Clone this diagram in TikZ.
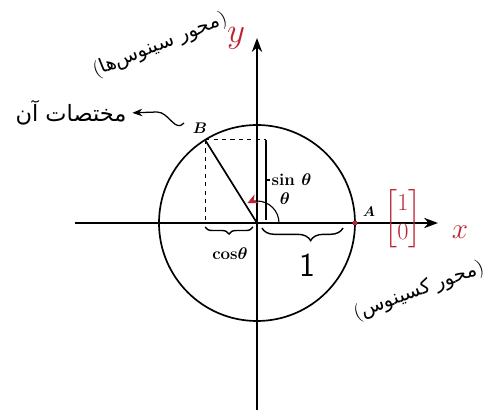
\documentclass[tikz,border=0pt]{standalone}
\usepackage{amsmath}
\usepackage{fontspec}
\usepackage{tikz}
\usetikzlibrary{positioning, arrows.meta, calc, decorations.pathreplacing}
\newfontfamily\farsifont[Script=Arabic]{DejaVu Sans}
\TeXXeTstate=1
\definecolor{penred}{RGB}{190,35,50}

\begin{document}
\begin{tikzpicture}[
    x=0.025cm, y=0.025cm,
    axis/.style={
      line width=1.3pt,
      -{Stealth[length=3.5mm, width=2.6mm]}
    },
    ring/.style={line width=1.2pt},
    guide/.style={dashed, line width=0.7pt},
    note/.style={
      font=\farsifont\fontsize{14}{16}\selectfont,
      inner sep=1pt
    },
    lbl/.style={
      font=\bfseries\fontsize{12}{13}\selectfont,
      inner sep=1pt
    },
    bracket/.style={
      decorate,
      line width=1pt,
      decoration={brace, amplitude=#1}
    }
  ]

    \useasboundingbox (-257,-191) rectangle (231,223);

    % axes
    \coordinate (O) at (0,0);
    \coordinate (xs) at (-182,0);
    \coordinate (xe) at (181,0);
    \coordinate (ys) at (0,-187);
    \coordinate (ye) at (0,185);
    \draw[axis] (xs) -- (xe);
    \draw[axis] (ys) -- (ye);

    % circle and the point B
    \draw[ring] (O) circle[radius=98];
    \coordinate (A) at (0:98);
    \coordinate (B) at (122:98);
    \coordinate (Bx) at (B |- O);
    \coordinate (Bs) at ($(B -| O)+(9,0)$);
    \coordinate (Bs0) at (9,3);
    \coordinate (Bsm) at ($(Bs)!0.5!(Bs0)$);

    \draw[ring] (O) -- (B);
    \draw[guide] (B) -- (Bx);
    \draw[guide] (B) -- (Bs);
    \draw[line width=0.9pt] (Bs) -- (Bs0);

    \node[lbl, anchor=west] (sinlbl) at ($(Bsm)+(4,0)$) {sin $\boldsymbol{\theta}$};
    \draw[line width=0.9pt] (Bsm) -- (sinlbl.west);

    % cos and 1
    \draw[bracket=5pt] ($(O)+(-4,-4)$) -- ($(Bx)+(0,-4)$);
    \node[lbl] (coslbl) at (-27,-31) {cos$\boldsymbol{\theta}$};

    \draw[bracket=9pt, decoration={aspect=0.4}] (86,-5) -- (5,-5);
    \node[font=\sffamily\fontsize{24}{26}\selectfont] (one) at (50,-42) {1};

    % angle
    \coordinate (arc0) at (22,0);
    \draw[line width=0.8pt, -{Stealth[color=penred, length=2.6mm, width=2.4mm]}]
      (arc0) arc[start angle=0, end angle=116, radius=22];
    \node[lbl] (th) at (28,24) {$\boldsymbol{\theta}$};

    % points
    \fill[penred] (A) circle[radius=2.5];
    \node[lbl, font=\fontsize{10}{11}\selectfont] (Alab) at (112,11) {$\boldsymbol{A}$};
    \node[lbl, font=\fontsize{11}{12}\selectfont] (Blab) at (-57,95) {$\boldsymbol{B}$};

    \node[text=penred, font=\fontsize{18}{21}\selectfont] (vec) at (146,4)
      {$\begin{bmatrix}1\\0\end{bmatrix}$};

    % axis names
    \node[text=penred, font=\fontsize{20}{22}\selectfont] (xlab) at (203,-9) {$x$};
    \node[text=penred, font=\fontsize{24}{26}\selectfont] (ylab) at (-21,185) {$y$};

    \node[note, rotate=22] (ynote) at (-97,178)
      {{\rmfamily(}\beginR محور سینوس‌ها\endR{\rmfamily)}};
    \node[note, rotate=20] (xnote) at (162,-68)
      {{\rmfamily(}\beginR محور کسینوس\endR{\rmfamily)}};
    \node[note, font=\farsifont\fontsize{16}{18}\selectfont] (bnote) at (-186,110)
      {\beginR مختصات آن\endR};

    \coordinate (w0) at (-73,100);
    \draw[line width=0.9pt, -{Stealth[length=2.5mm]}, shorten >=3pt]
      (w0) .. controls (-82,90) and (-88,111) .. (-100,111) -- (bnote.east);

\end{tikzpicture}
\end{document}
